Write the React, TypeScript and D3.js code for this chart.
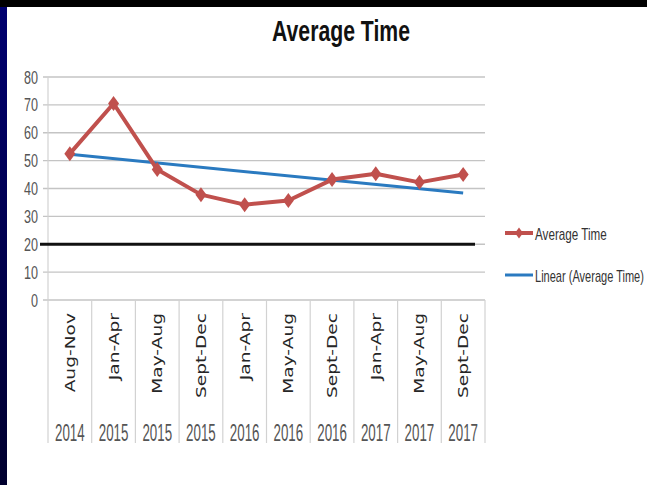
import React from 'react';
import * as d3 from 'd3';

// chart data
const periods = ['Aug-Nov', 'Jan-Apr', 'May-Aug', 'Sept-Dec', 'Jan-Apr', 'May-Aug', 'Sept-Dec', 'Jan-Apr', 'May-Aug', 'Sept-Dec'];
const years = ['2014', '2015', '2015', '2015', '2016', '2016', '2016', '2017', '2017', '2017'];
const averageTime = [52.5, 70.5, 46.8, 37.8, 34.2, 35.7, 43.2, 45.3, 42.2, 45];
const yTicks = [0, 10, 20, 30, 40, 50, 60, 70, 80];
const targetLine = 20;

const W = 647;
const H = 485;
const RED = '#c0504d';
const BLUE = '#2a7ac0';
const SANS = '"Liberation Sans", Arial, sans-serif';

// least squares trend, same as Excel's "Linear" trendline
function linearFit(ys: number[]) {
  const xs = ys.map((_, i) => i + 1);
  const mx = d3.mean(xs) as number;
  const my = d3.mean(ys) as number;
  const num = d3.sum(xs, (x, i) => (x - mx) * (ys[i] - my));
  const den = d3.sum(xs, (x) => (x - mx) ** 2);
  const slope = num / den;
  return (x: number) => my + slope * (x - mx);
}

const diamond = (w: number, h: number) => `M0,${-h / 2}L${w / 2},0L0,${h / 2}L${-w / 2},0Z`;

export default function App() {
  const idx = periods.map((_, i) => i);
  const x = d3.scaleBand<number>().domain(idx).range([48, 485]);
  const y = d3.scaleLinear().domain([0, 80]).range([300, 77]);
  const cx = (i: number) => (x(i) as number) + x.bandwidth() / 2;

  const line = d3
    .line<number>()
    .x((_, i) => cx(i))
    .y((d) => y(d));

  const fit = linearFit(averageTime);
  const trend = [fit(1), fit(averageTime.length)];

  const bounds = [...idx.map((i) => x(i) as number), x.range()[1]];

  return (
    <svg width={W} height={H} style={{ position: 'absolute', left: 0, top: 0 }}>
      <defs>
        <linearGradient id="strip" x1="0" y1="0" x2="0" y2="1">
          <stop offset="0" stopColor="#000070" />
          <stop offset="1" stopColor="#00002e" />
        </linearGradient>
      </defs>
      <rect width={W} height={H} fill="#fff" />
      <rect x={0} y={0} width={7} height={H} fill="url(#strip)" />
      <rect x={0} y={0} width={W} height={7} fill="#000" />

      {/* title */}
      <text x={341} y={41} textAnchor="middle" fontFamily={SANS} fontWeight="bold" fontSize={30}
        textLength={138} lengthAdjust="spacingAndGlyphs" fill="#111">
        Average Time
      </text>

      {/* gridlines + y labels */}
      {yTicks.map((t) => (
        <g key={t}>
          <line x1={43} x2={485} y1={y(t)} y2={y(t)} stroke="#c4c4c4" strokeWidth={1.3} />
          <text transform={`translate(38,${y(t) + 6.5}) scale(0.68,1)`} textAnchor="end"
            fontFamily={SANS} fontSize={18.5} fill="#555">
            {t}
          </text>
        </g>
      ))}

      {/* category separators */}
      {bounds.map((b, i) => (
        <line key={i} x1={b} x2={b} y1={i === 0 ? 77 : 300} y2={443} stroke="#d2d2d2" strokeWidth={1.2} />
      ))}

      {/* category labels */}
      {periods.map((p, i) => (
        <text key={`p${i}`} transform={`translate(${cx(i) + 5},313) rotate(-90) scale(1.38,1)`}
          textAnchor="end" fontFamily='"DejaVu Sans", sans-serif' fontSize={13.5} fill="#262626">
          {p}
        </text>
      ))}
      {years.map((yr, i) => (
        <text key={`y${i}`} transform={`translate(${cx(i)},441) scale(0.58,1)`} textAnchor="middle"
          fontFamily={SANS} fontSize={23} fill="#555">
          {yr}
        </text>
      ))}

      {/* target line */}
      <line x1={40} x2={475} y1={y(targetLine)} y2={y(targetLine)} stroke="#111" strokeWidth={3} />

      {/* trendline */}
      <line x1={cx(0)} x2={cx(averageTime.length - 1)} y1={y(trend[0])} y2={y(trend[1])}
        stroke={BLUE} strokeWidth={3} />

      {/* series */}
      <path d={line(averageTime) || ''} fill="none" stroke={RED} strokeWidth={4} strokeLinejoin="round" />
      {averageTime.map((v, i) => (
        <path key={`m${i}`} d={diamond(11, 15)} transform={`translate(${cx(i)},${y(v)})`} fill={RED} />
      ))}

      {/* legend */}
      <line x1={505} x2={533} y1={233} y2={233} stroke={RED} strokeWidth={4} />
      <path d={diamond(8, 11)} transform="translate(519,233)" fill={RED} />
      <text transform="translate(535,240) scale(0.73,1)" fontFamily={SANS} fontSize={16} fill="#333">
        Average Time
      </text>
      <line x1={505} x2={533} y1={275} y2={275} stroke={BLUE} strokeWidth={3} />
      <text transform="translate(535,282) scale(0.69,1)" fontFamily={SANS} fontSize={16} fill="#333">
        Linear (Average Time)
      </text>
    </svg>
  );
}
